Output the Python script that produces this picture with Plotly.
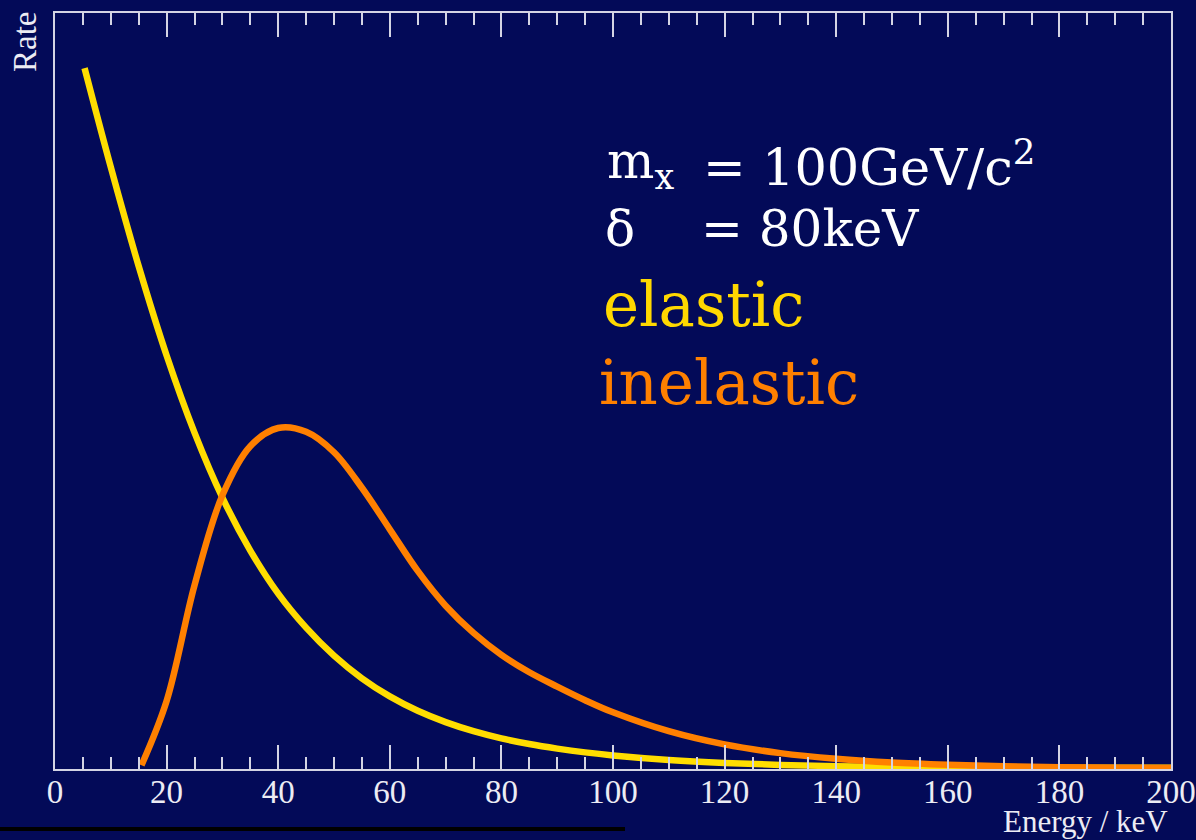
import plotly.graph_objects as go

# Elastic recoil spectrum (keV, arbitrary rate units)
energy_elastic = [5.3, 10, 15, 20, 25, 30, 35, 40, 45, 50, 55, 60, 65, 70, 75, 80, 85, 90, 95,
                  100, 110, 120, 130, 140, 150, 160, 170, 180, 190, 200]
rate_elastic = [92.7, 79.6, 66.5, 54.7, 44.5, 35.9, 28.9, 23.2, 18.7, 15.0, 12.0, 9.6, 7.7, 6.2,
                5.0, 4.05, 3.3, 2.7, 2.2, 1.8, 1.2, 0.8, 0.54, 0.38, 0.28, 0.22, 0.19, 0.17,
                0.16, 0.15]

# Inelastic recoil spectrum (delta = 80 keV)
energy_inelastic = [15.5, 20, 25, 30, 35, 40, 45, 50, 55, 60, 65, 70, 75, 80, 85, 90, 95,
                    100, 110, 120, 130, 140, 150, 160, 170, 180, 190, 200]
rate_inelastic = [0.5, 9.0, 24.3, 36.2, 42.7, 45.1, 44.6, 41.9, 37.2, 31.7, 26.2, 21.6, 18.0,
                  15.1, 12.8, 10.9, 9.1, 7.5, 5.0, 3.25, 2.1, 1.35, 0.85, 0.55, 0.35, 0.22,
                  0.15, 0.12]

# plot-area geometry in page pixels
W, H = 1196, 840
L, R, T, B = 55, 1171, 13, 769


def px(x):
    return (x - L) / (R - L)


def py(y):
    return (B - y) / (B - T)


BG = "#030a58"
AXIS = "#d4d4e4"
TEXT = "#ececf4"
YELLOW = "#ffdd00"
ORANGE = "#ff8000"
SERIF = "Liberation Serif"
LABEL_FONT = "DejaVu Serif"

fig = go.Figure()
fig.add_trace(go.Scatter(x=energy_elastic, y=rate_elastic, mode="lines",
                         line=dict(color=YELLOW, width=6.5, shape="spline", smoothing=1.0),
                         name="elastic", showlegend=False))
# the inelastic curve sits on the overlaid minor-tick axis so it is drawn on top
fig.add_trace(go.Scatter(x=energy_inelastic, y=rate_inelastic, mode="lines", xaxis="x2",
                         line=dict(color=ORANGE, width=6.5, shape="spline", smoothing=1.0),
                         name="inelastic", showlegend=False))

annotations = [
    dict(text="m<sub>x</sub>", x=px(605), y=py(164), xanchor="left", yanchor="middle",
         font=dict(family=LABEL_FONT, size=50, color="white")),
    dict(text="= 100GeV/c<sup>2</sup>", x=px(701), y=py(164), xanchor="left", yanchor="middle",
         font=dict(family=LABEL_FONT, size=51, color="white")),
    dict(text="δ", x=px(603), y=py(229), xanchor="left", yanchor="middle",
         font=dict(family=LABEL_FONT, size=50, color="white")),
    dict(text="= 80keV", x=px(699), y=py(229), xanchor="left", yanchor="middle",
         font=dict(family=LABEL_FONT, size=50, color="white")),
    dict(text="elastic", x=px(601), y=py(304), xanchor="left", yanchor="middle",
         font=dict(family=LABEL_FONT, size=61, color="#ffd800")),
    dict(text="inelastic", x=px(597), y=py(382), xanchor="left", yanchor="middle",
         font=dict(family=LABEL_FONT, size=61, color="#ff8000")),
    dict(text="Rate", textangle=-90, x=px(25), y=py(10), xanchor="center", yanchor="top",
         font=dict(family=SERIF, size=33, color=TEXT)),
    dict(text="Energy / keV", x=px(1170), y=py(821), xanchor="right", yanchor="middle",
         font=dict(family=SERIF, size=31, color=TEXT)),
]
for a in annotations:
    a.update(xref="paper", yref="paper", showarrow=False)

fig.update_layout(
    width=W, height=H,
    margin=dict(l=L, r=W - R, t=T, b=H - B, autoexpand=False),
    paper_bgcolor=BG, plot_bgcolor=BG,
    annotations=annotations,
    shapes=[dict(type="line", xref="paper", yref="paper",
                 x0=px(0), x1=px(625), y0=py(829), y1=py(829),
                 line=dict(color="black", width=4))],
    # major ticks every 20 keV with labels
    xaxis=dict(range=[0, 200], tick0=0, dtick=20,
               ticks="inside", ticklen=24, tickwidth=2, tickcolor=AXIS,
               showline=True, linewidth=2, linecolor=AXIS, mirror="ticks",
               showgrid=False, zeroline=False,
               tickfont=dict(family=SERIF, size=33, color=TEXT),
               ticklabelstandoff=-8),
    # minor ticks every 5 keV
    xaxis2=dict(range=[0, 200], matches="x", overlaying="x", side="bottom", anchor="y",
                tick0=0, dtick=5, ticks="inside", ticklen=12, tickwidth=2, tickcolor=AXIS,
                showticklabels=False, showline=False, mirror="ticks",
                showgrid=False, zeroline=False),
    yaxis=dict(range=[0, 100], showticklabels=False, ticks="",
               showline=True, linewidth=2, linecolor=AXIS, mirror=True,
               showgrid=False, zeroline=False),
)

fig.write_html("out.html")
